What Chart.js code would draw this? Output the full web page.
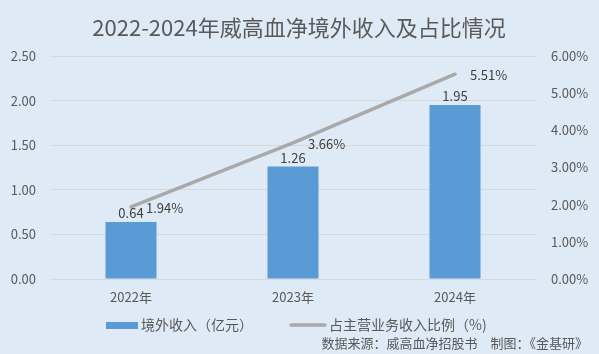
<!DOCTYPE html>
<html><head><meta charset="utf-8">
<script src="https://cdn.jsdelivr.net/npm/chart.js@4/dist/chart.umd.min.js"></script>
<style>html,body{margin:0;padding:0;background:#deeaf6;}#w{width:599px;height:354px;}</style>
</head><body><div id="w"><canvas id="c" width="599" height="354"></canvas></div>
<script>
const categories = ['2022年', '2023年', '2024年'];
const revenue = [0.64, 1.26, 1.95];
const ratio = [1.94, 3.66, 5.51];
const leftTicks = [0, 0.5, 1.0, 1.5, 2.0, 2.5];
const rightTicks = [0, 1, 2, 3, 4, 5, 6];
const titleText = '2022-2024年威高血净境外收入及占比情况';
const legendBar = '境外收入（亿元）';
const legendLine = '占主营业务收入比例（%)';
const sourceText = '数据来源：威高血净招股书　制图：《金基研》';

const FONT = '"Noto Sans CJK SC", "Microsoft YaHei", sans-serif';
const BLUE = '#5b9bd5', GRAY = '#a9a9a9';

const deco = {
  id: 'deco',
  beforeDraw(chart) {
    const c = chart.ctx;
    c.save();
    c.fillStyle = '#deeaf6';
    c.fillRect(0, 0, chart.width, chart.height);
    c.restore();
  },
  afterDraw(chart) {
    const c = chart.ctx;
    c.save();
    // title
    c.fillStyle = '#595959';
    c.font = '22px ' + FONT;
    c.textAlign = 'center'; c.textBaseline = 'middle';
    c.fillText(titleText, 299, 28);
    // data labels
    c.font = '13px ' + FONT;
    c.fillStyle = '#404040';
    const bm = chart.getDatasetMeta(0).data;
    bm.forEach((el, i) => {
      c.textAlign = 'center'; c.textBaseline = 'middle';
      c.fillText(revenue[i].toFixed(2), el.x, el.y - 9);
    });
    const lm = chart.getDatasetMeta(1).data;
    lm.forEach((el, i) => {
      c.textAlign = 'left'; c.textBaseline = 'middle';
      c.fillText(ratio[i].toFixed(2) + '%', el.x + 15, el.y + 1);
    });
    // legend
    c.fillStyle = BLUE;
    c.fillRect(106, 322, 32, 7);
    c.fillStyle = '#595959';
    c.font = '14px ' + FONT;
    c.textAlign = 'left'; c.textBaseline = 'middle';
    c.fillText(legendBar, 141, 325);
    c.strokeStyle = GRAY; c.lineWidth = 3.5; c.lineCap = 'round';
    c.beginPath(); c.moveTo(291, 325); c.lineTo(325, 325); c.stroke();
    c.fillText(legendLine, 329, 325);
    // source
    c.font = '13px ' + FONT;
    c.textAlign = 'right';
    c.fillText(sourceText, 588, 343);
    c.restore();
  }
};

new Chart(document.getElementById('c'), {
  data: {
    labels: categories,
    datasets: [
      { type: 'bar', label: legendBar, data: revenue, backgroundColor: BLUE, yAxisID: 'y',
        barPercentage: 0.315, categoryPercentage: 1.0, order: 2 },
      { type: 'line', label: legendLine, data: ratio, borderColor: GRAY, borderWidth: 3.5,
        pointRadius: 0, yAxisID: 'y1', tension: 0, order: 1, borderCapStyle: 'round' }
    ]
  },
  options: {
    responsive: false, animation: false,
    layout: { padding: { left: 0, right: 0, top: 56, bottom: 47 } },
    plugins: { legend: { display: false }, title: { display: false }, tooltip: { enabled: false } },
    scales: {
      x: {
        grid: { display: false, drawTicks: false }, border: { display: false },
        ticks: { color: '#595959', font: { size: 13, family: FONT }, padding: 10 },
        afterFit(s) { s.height = 28; }
      },
      y: {
        position: 'left', min: 0, max: 2.5,
        afterBuildTicks(s) { s.ticks = leftTicks.map(v => ({ value: v })); },
        grid: { color: '#d9d9d9', lineWidth: 1, drawTicks: false }, border: { display: false },
        ticks: { color: '#595959', font: { size: 13, family: FONT }, padding: 14,
          callback: v => Number(v).toFixed(2) },
        afterFit(s) { s.width = 50; }
      },
      y1: {
        position: 'right', min: 0, max: 6,
        afterBuildTicks(s) { s.ticks = rightTicks.map(v => ({ value: v })); },
        grid: { display: false, drawTicks: false }, border: { display: false },
        ticks: { color: '#595959', font: { size: 13, family: FONT }, padding: 15,
          callback: v => Number(v).toFixed(2) + '%' },
        afterFit(s) { s.width = 63; }
      }
    }
  },
  plugins: [deco]
});
</script></body></html>
